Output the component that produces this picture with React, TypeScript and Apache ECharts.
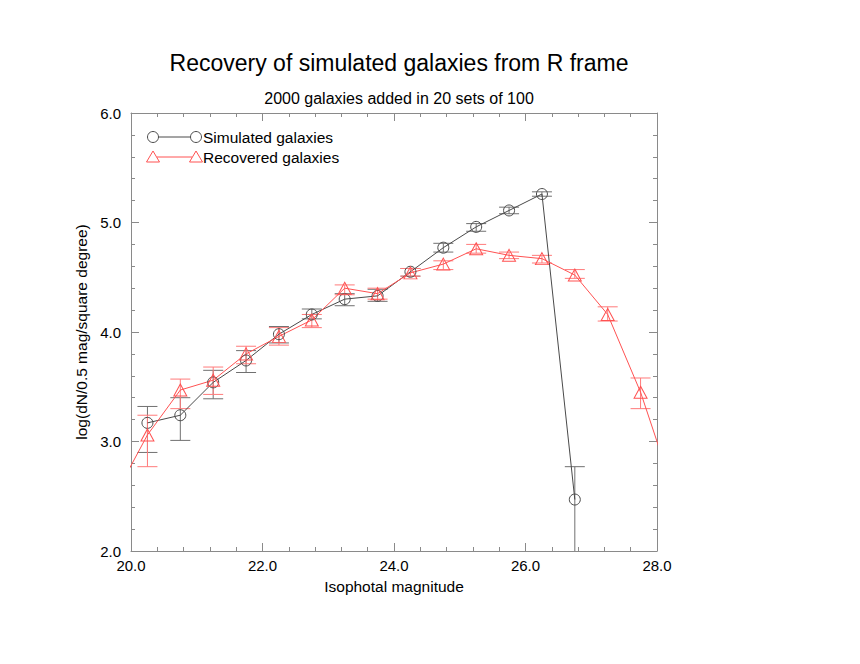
import React, { useEffect, useRef } from "react";
import * as echarts from "echarts";

const simX = [20.25, 20.75, 21.25, 21.75, 22.25, 22.75, 23.25, 23.75, 24.25, 24.75, 25.25, 25.75, 26.25, 26.75];
const simY = [3.17, 3.24, 3.54, 3.74, 3.98, 4.16, 4.30, 4.33, 4.55, 4.77, 4.96, 5.11, 5.26, 2.47];
const simHi = [3.32, 3.40, 3.65, 3.83, 4.05, 4.21, 4.35, 4.39, 4.58, 4.81, 4.99, 5.14, 5.28, 2.77];
const simLo = [2.90, 3.01, 3.39, 3.63, 3.90, 4.12, 4.24, 4.28, 4.51, 4.73, 4.92, 5.08, 5.24, 1.6];

const recX = [19.75, 20.25, 20.75, 21.25, 21.75, 22.25, 22.75, 23.25, 23.75, 24.25, 24.75, 25.25, 25.75, 26.25, 26.75, 27.25, 27.75, 28.25];
const recY = [2.50, 3.06, 3.47, 3.56, 3.80, 3.96, 4.11, 4.40, 4.35, 4.54, 4.62, 4.76, 4.70, 4.67, 4.52, 4.16, 3.45, 2.55];
const recErrX = [20.25, 20.75, 21.25, 21.75, 22.25, 22.75, 23.25, 23.75, 24.25, 24.75, 25.25, 25.75, 26.25, 26.75, 27.25, 27.75];
const recHi = [3.24, 3.57, 3.68, 3.87, 4.04, 4.16, 4.43, 4.40, 4.58, 4.65, 4.80, 4.73, 4.70, 4.57, 4.23, 3.58];
const recLo = [2.77, 3.30, 3.43, 3.71, 3.88, 4.04, 4.34, 4.30, 4.51, 4.57, 4.72, 4.67, 4.63, 4.49, 4.10, 3.30];

const xTicks = { min: 20, max: 28, interval: 2 };
const yTicks = { min: 2, max: 6, interval: 1 };

const titleText = "Recovery of simulated galaxies from R frame";
const subtitleText = "2000 galaxies added in 20 sets of 100";
const xName = "Isophotal magnitude";
const yName = "log(dN/0.5 mag/square degree)";
const simName = "Simulated galaxies";
const recName = "Recovered galaxies";

const FONT = "Liberation Sans, Arial, Helvetica, sans-serif";
const AXIS_COLOR = "#8a8a8a";
const SIM_COLOR = "#4a4a4a";
const SIM_ERR = "#707070";
const REC_COLOR = "#ff5252";
const REC_ERR = "#ff7a7a";

function errRender(color: string) {
  return (params: any, api: any) => {
    const x = api.value(0);
    const lo = Math.max(api.value(1), yTicks.min);
    const hi = Math.min(api.value(2), yTicks.max);
    const pHi = api.coord([x, hi]);
    const pLo = api.coord([x, lo]);
    const hw = 10;
    const style = { stroke: color, lineWidth: 1 };
    const children: any[] = [
      { type: "line", shape: { x1: pHi[0], y1: pHi[1], x2: pLo[0], y2: pLo[1] }, style },
      { type: "line", shape: { x1: pHi[0] - hw, y1: pHi[1], x2: pHi[0] + hw, y2: pHi[1] }, style },
    ];
    if (api.value(1) >= yTicks.min) {
      children.push({ type: "line", shape: { x1: pLo[0] - hw, y1: pLo[1], x2: pLo[0] + hw, y2: pLo[1] }, style });
    }
    return { type: "group", children };
  };
}

export default function App() {
  const ref = useRef<HTMLDivElement>(null);
  useEffect(() => {
    if (!ref.current) return;
    const chart = echarts.init(ref.current, null, { renderer: "svg" });
    const axisCommon = {
      type: "value" as const,
      axisLine: { show: true, onZero: false, lineStyle: { color: AXIS_COLOR, width: 1 } },
      axisTick: { show: true, inside: true, length: 8, lineStyle: { color: AXIS_COLOR } },
      minorTick: { show: true, splitNumber: 5, length: 4, lineStyle: { color: AXIS_COLOR } },
      splitLine: { show: false },
    };
    const simData = simX.map((x, i) => [x, simY[i]]);
    const recData = recX.map((x, i) => [x, recY[i]]);
    const simErr = simX.map((x, i) => [x, simLo[i], simHi[i]]);
    const recErr = recErrX.map((x, i) => [x, recLo[i], recHi[i]]);

    const legendY1 = 137;
    const legendY2 = 157;
    const lx1 = 153;
    const lx2 = 196;
    const tri = (cx: number, cy: number) => ({
      type: "polygon",
      shape: { points: [[cx, cy - 6], [cx + 6.5, cy + 5], [cx - 6.5, cy + 5]] },
      style: { fill: "none", stroke: REC_COLOR, lineWidth: 1 },
    });

    chart.setOption({
      animation: false,
      backgroundColor: "#ffffff",
      textStyle: { fontFamily: FONT },
      title: [
        { text: titleText, left: 394, top: 46, textAlign: "center", textStyle: { fontSize: 23, fontWeight: "normal", color: "#000", fontFamily: FONT } },
        { text: subtitleText, left: 394, top: 85, textAlign: "center", textStyle: { fontSize: 16, fontWeight: "normal", color: "#000", fontFamily: FONT } },
      ],
      grid: { left: 131, top: 113, width: 526, height: 438, containLabel: false },
      xAxis: [
        {
          ...axisCommon,
          position: "bottom",
          min: xTicks.min, max: xTicks.max, interval: xTicks.interval,
          name: xName, nameLocation: "middle", nameGap: 27,
          nameTextStyle: { fontSize: 15.5, color: "#000", fontFamily: FONT },
          axisLabel: { fontSize: 15, color: "#000", margin: 7, fontFamily: FONT, formatter: (v: number) => v.toFixed(1) },
        },
        {
          ...axisCommon,
          position: "top",
          min: xTicks.min, max: xTicks.max, interval: xTicks.interval,
          axisLabel: { show: false },
        },
      ],
      yAxis: [
        {
          ...axisCommon,
          position: "left",
          min: yTicks.min, max: yTicks.max, interval: yTicks.interval,
          name: yName, nameLocation: "middle", nameGap: 26,
          nameTextStyle: { fontSize: 15.5, color: "#000", fontFamily: FONT },
          axisLabel: { fontSize: 15, color: "#000", margin: 10, fontFamily: FONT, formatter: (v: number) => v.toFixed(1) },
        },
        {
          ...axisCommon,
          position: "right",
          min: yTicks.min, max: yTicks.max, interval: yTicks.interval,
          axisLabel: { show: false },
        },
      ],
      series: [
        {
          name: simName,
          type: "line",
          data: simData,
          symbol: "circle",
          symbolSize: 11,
          clip: true,
          itemStyle: { color: "transparent", borderColor: SIM_COLOR, borderWidth: 1 },
          lineStyle: { color: SIM_COLOR, width: 1 },
          z: 3,
        },
        {
          name: recName,
          type: "line",
          data: recData,
          symbol: "triangle",
          symbolSize: [13, 12],
          clip: true,
          itemStyle: { color: "transparent", borderColor: REC_COLOR, borderWidth: 1 },
          lineStyle: { color: REC_COLOR, width: 1 },
          z: 3,
        },
        {
          type: "custom",
          data: simErr,
          renderItem: errRender(SIM_ERR),
          encode: { x: 0, y: [1, 2] },
          z: 2,
        },
        {
          type: "custom",
          data: recErr,
          renderItem: errRender(REC_ERR),
          encode: { x: 0, y: [1, 2] },
          z: 2,
        },
      ],
      graphic: [
        { type: "circle", shape: { cx: lx1, cy: legendY1, r: 5.5 }, style: { fill: "none", stroke: SIM_COLOR, lineWidth: 1 } },
        { type: "line", shape: { x1: lx1 + 5.5, y1: legendY1, x2: lx2 - 5.5, y2: legendY1 }, style: { stroke: SIM_COLOR, lineWidth: 1 } },
        { type: "circle", shape: { cx: lx2, cy: legendY1, r: 5.5 }, style: { fill: "none", stroke: SIM_COLOR, lineWidth: 1 } },
        { type: "text", x: 203, y: legendY1, style: { text: simName, fontSize: 15.5, fontFamily: FONT, fill: "#000", verticalAlign: "middle", align: "left" } },
        tri(lx1, legendY2),
        { type: "line", shape: { x1: lx1 + 4, y1: legendY2, x2: lx2 - 4, y2: legendY2 }, style: { stroke: REC_COLOR, lineWidth: 1 } },
        tri(lx2, legendY2),
        { type: "text", x: 203, y: legendY2, style: { text: recName, fontSize: 15.5, fontFamily: FONT, fill: "#000", verticalAlign: "middle", align: "left" } },
      ],
    });
    return () => chart.dispose();
  }, []);
  return <div ref={ref} style={{ position: "fixed", left: 0, top: 0, width: 860, height: 664 }} />;
}
